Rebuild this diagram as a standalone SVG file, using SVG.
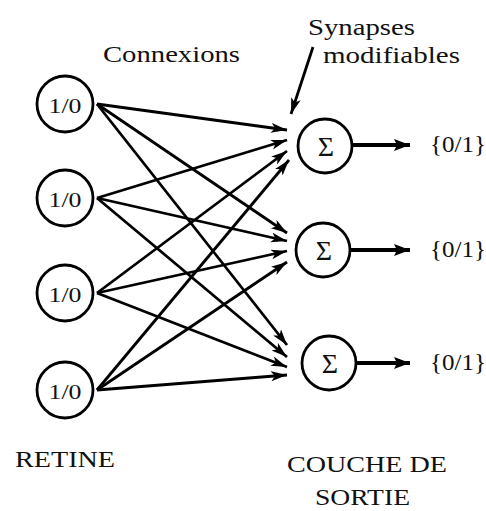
<svg xmlns="http://www.w3.org/2000/svg" width="486" height="511" viewBox="0 0 486 511">
<defs>
<style>
.node circle{fill:#fff;stroke:#000;stroke-width:2.8}
text{fill:#111;font-family:"Liberation Serif","Times New Roman","DejaVu Serif",serif}
.lbl{font-size:22px;text-anchor:middle}
.sig{font-size:28px;text-anchor:middle}
.big{font-size:24px}
.conn line{stroke:#000;stroke-width:2.8;fill:none;marker-end:url(#ah)}
.out line{stroke:#000;stroke-width:3.8;marker-end:url(#ah2)}
</style>
<marker id="ah" markerUnits="userSpaceOnUse" markerWidth="18" markerHeight="12" refX="16" refY="5" orient="auto">
<path d="M0,0 L16,5 L0,10 L4,5 z" fill="#000"/>
</marker>
<marker id="ah2" markerUnits="userSpaceOnUse" markerWidth="18" markerHeight="14" refX="16" refY="6" orient="auto">
<path d="M0,0 L16,6 L0,12 L3,6 z" fill="#000"/>
</marker>
</defs>
<rect width="486" height="511" fill="#fff"/>
<g id="connectors" class="conn">
<line x1="97" y1="104" x2="287" y2="130"/>
<line x1="97" y1="104" x2="287" y2="233"/>
<line x1="97" y1="104" x2="287" y2="345"/>
<line x1="97" y1="198" x2="287" y2="140"/>
<line x1="97" y1="198" x2="287" y2="241"/>
<line x1="97" y1="198" x2="287" y2="357"/>
<line x1="97" y1="293" x2="287" y2="151"/>
<line x1="97" y1="293" x2="287" y2="251"/>
<line x1="97" y1="293" x2="287" y2="367"/>
<line x1="97" y1="390" x2="289" y2="160"/>
<line x1="97" y1="390" x2="287" y2="262"/>
<line x1="97" y1="390" x2="287" y2="375"/>
<line x1="313" y1="47" x2="291" y2="114"/>
</g>
<g id="outputs" class="out">
<line x1="352" y1="145" x2="410" y2="145"/>
<line x1="350" y1="250" x2="410" y2="250"/>
<line x1="356" y1="363" x2="410" y2="363"/>
</g>
<g id="in1" class="node"><circle cx="65" cy="104" r="28"/><text class="lbl" x="65" y="113" textLength="33" lengthAdjust="spacingAndGlyphs">1/0</text></g>
<g id="in2" class="node"><circle cx="65" cy="198" r="28"/><text class="lbl" x="65" y="207" textLength="33" lengthAdjust="spacingAndGlyphs">1/0</text></g>
<g id="in3" class="node"><circle cx="65" cy="293" r="28"/><text class="lbl" x="65" y="302" textLength="33" lengthAdjust="spacingAndGlyphs">1/0</text></g>
<g id="in4" class="node"><circle cx="65" cy="390" r="28"/><text class="lbl" x="65" y="399" textLength="33" lengthAdjust="spacingAndGlyphs">1/0</text></g>
<g id="out1" class="node"><circle cx="325" cy="146" r="27"/><text class="sig" x="326" y="156">Σ</text></g>
<g id="out2" class="node"><circle cx="323" cy="250" r="27"/><text class="sig" x="324" y="260">Σ</text></g>
<g id="out3" class="node"><circle cx="329" cy="363" r="27"/><text class="sig" x="330" y="373">Σ</text></g>
<g id="labels">
<text class="big" x="430" y="152" textLength="56" lengthAdjust="spacingAndGlyphs">{0/1}</text>
<text class="big" x="430" y="257" textLength="56" lengthAdjust="spacingAndGlyphs">{0/1}</text>
<text class="big" x="430" y="370" textLength="56" lengthAdjust="spacingAndGlyphs">{0/1}</text>
<text class="big" x="103" y="62" textLength="137" lengthAdjust="spacingAndGlyphs">Connexions</text>
<text class="big" x="308" y="35" textLength="107" lengthAdjust="spacingAndGlyphs">Synapses</text>
<text class="big" x="323" y="63" textLength="137" lengthAdjust="spacingAndGlyphs">modifiables</text>
<text class="big" x="15" y="467" textLength="100" lengthAdjust="spacingAndGlyphs">RETINE</text>
<text class="big" x="287" y="472" textLength="160" lengthAdjust="spacingAndGlyphs">COUCHE DE</text>
<text class="big" x="315" y="505" textLength="95" lengthAdjust="spacingAndGlyphs">SORTIE</text>
</g>
</svg>
